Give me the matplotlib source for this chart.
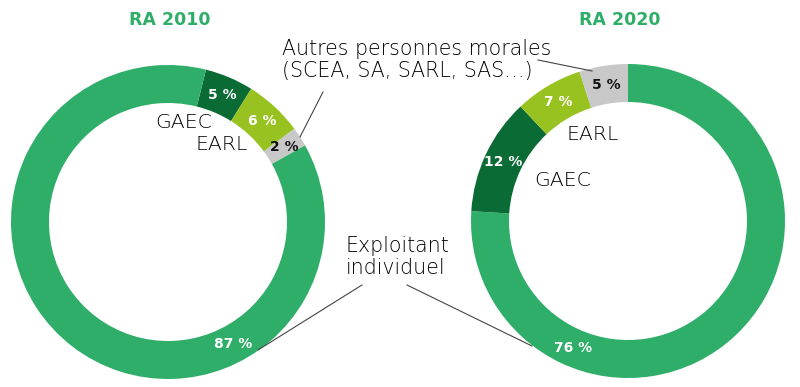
import numpy as np
import matplotlib.pyplot as plt

# données
categories = ["GAEC", "EARL", "Autres personnes morales", "Exploitant individuel"]
parts_2010 = [5, 6, 2, 87]      # %
parts_2020 = [12, 7, 5, 76]     # %
titres = ["RA 2010", "RA 2020"]

# couleurs
c_gaec  = "#0b6b35"
c_earl  = "#98c21f"
c_autre = "#c8c8c8"
c_indiv = "#2fae69"
couleurs = [c_gaec, c_earl, c_autre, c_indiv]
texte = "#000000"

W, H = 800, 387
fig = plt.figure(figsize=(W/100, H/100), dpi=100)
ax = fig.add_axes([0, 0, 1, 1])

def py(y):
    # coordonnée pixel (origine en haut) -> coordonnée du graphique
    return H - y

R  = 157.0     # rayon extérieur
ep = 38.0      # épaisseur de l'anneau
r_lbl = R - ep/2

# anneau 2010 : GAEC, EARL, autres, individuel (sens horaire)
c1 = (168, py(222))
w1, _ = ax.pie(parts_2010, colors=couleurs, startangle=76, counterclock=False,
               radius=R, center=c1, wedgeprops=dict(width=ep, linewidth=0))

# anneau 2020 : individuel, GAEC, EARL, autres (sens horaire)
ordre = [3, 0, 1, 2]
c2 = (628, py(221))
w2, _ = ax.pie([parts_2020[i] for i in ordre], colors=[couleurs[i] for i in ordre],
               startangle=90, counterclock=False, radius=R, center=c2,
               wedgeprops=dict(width=ep, linewidth=0))

police = "DejaVu Sans"

def etiquette(centre, ang, val, coul):
    a = np.radians(ang)
    ax.text(centre[0] + r_lbl*np.cos(a), centre[1] + r_lbl*np.sin(a), f"{val} %",
            ha="center", va="center", fontsize=10, fontweight="bold",
            color=coul, family=police)

# étiquettes des pourcentages
for k, w in enumerate(w1):
    ang = (w.theta1 + w.theta2)/2
    if k == 3:
        ang = -62          # placé en bas
    etiquette(c1, ang, parts_2010[k], "#111111" if k == 2 else "white")

for j, w in enumerate(w2):
    k = ordre[j]
    ang = (w.theta1 + w.theta2)/2
    if k == 3:
        ang = -113.5
    etiquette(c2, ang, parts_2020[k], "#111111" if k == 2 else "white")

# titres
ax.text(170, py(20), titres[0], ha="center", va="center", fontsize=12.5,
        fontweight="bold", color=c_indiv, family=police)
ax.text(620, py(20), titres[1], ha="center", va="center", fontsize=12.5,
        fontweight="bold", color=c_indiv, family=police)

# noms des catégories
kw = dict(ha="center", va="center", fontsize=14.7, color=texte, family=police,
          fontweight="light")
ax.text(184, py(123), "GAEC", **kw)
ax.text(222, py(144), "EARL", **kw)
ax.text(593, py(134), "EARL", **kw)
ax.text(563, py(180), "GAEC", **kw)

kw2 = dict(ha="left", va="center", fontsize=14.8, color=texte, family=police,
           fontweight="light", linespacing=1.08)
ax.text(282, py(60), "Autres personnes morales\n(SCEA, SA, SARL, SAS…)", **kw2)
ax.text(346, py(257), "Exploitant\nindividuel", **kw2)

# traits de rappel
trait = dict(color="#444444", lw=0.8)
ax.plot([323, 300], [py(92), py(137)], **trait)
ax.plot([538, 592], [py(60), py(71)], **trait)
ax.plot([362, 258], [py(285), py(350)], **trait)
ax.plot([407, 532], [py(285), py(346)], **trait)

ax.set_xlim(0, W)
ax.set_ylim(0, H)
ax.set_aspect("equal")
ax.axis("off")

fig.savefig("out.png", dpi=100)
